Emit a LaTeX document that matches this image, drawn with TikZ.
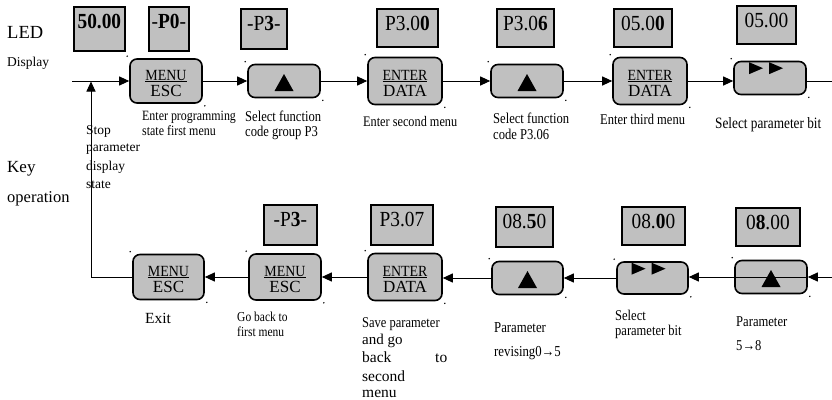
\documentclass[tikz,border=0pt]{standalone}
\usepackage{fontspec}
\setmainfont{Liberation Serif}
\newfontfamily\cf[FakeStretch=0.84]{Liberation Serif}
\newfontfamily\lf[FakeStretch=0.9]{Liberation Serif}
\usetikzlibrary{arrows.meta}
\definecolor{ledgray}{RGB}{192,192,192}
\newcommand\fs[1]{\fontsize{#1}{#1}\selectfont}
\newcommand\ledbox[6]{%
  \node[led, minimum width=#4pt, minimum height=#5pt] (#1) at (#2,#3) {};
  \node[ledtxt] (#1t) at ([yshift=-22pt]#1.north) {#6};}
\newcommand\cornerdots[1]{%
  \fill ([shift={(-2pt,2pt)}]#1.north west) circle (0.8pt);
  \fill ([shift={(2pt,-2pt)}]#1.south east) circle (0.8pt);}
\newcommand\twobtn[7]{%
  \node[btn, minimum width=#4pt, minimum height=#5pt] (#1) at (#2,#3) {};
  \node[btop] (#1a) at ([yshift=1pt]#1.center) {\underline{#6}};
  \node[bbot] (#1b) at ([yshift=-15.5pt]#1.center) {#7};
  \cornerdots{#1}}
\newcommand\upbtn[5]{%
  \node[btn, minimum width=#4pt, minimum height=#5pt] (#1) at (#2,#3) {};
  \fill ([shift={(-9.5pt,-10pt)}]#1.center) -- ([shift={(9.5pt,-10pt)}]#1.center)
     -- ([shift={(0pt,7pt)}]#1.center) -- cycle;
  \cornerdots{#1}}
\newcommand\ffbtn[5]{%
  \node[btn, minimum width=#4pt, minimum height=#5pt] (#1) at (#2,#3) {};
  \fill ([shift={(-21pt,-1.5pt)}]#1.north) -- ([shift={(-21pt,-13.5pt)}]#1.north)
     -- ([shift={(-7pt,-7.5pt)}]#1.north) -- cycle;
  \fill ([shift={(-1pt,-1.5pt)}]#1.north) -- ([shift={(-1pt,-13.5pt)}]#1.north)
     -- ([shift={(13pt,-7.5pt)}]#1.north) -- cycle;
  \cornerdots{#1}}
\begin{document}
\begin{tikzpicture}[x=1pt,y=-1pt,
  led/.style={draw, line width=1.8pt, fill=ledgray, inner sep=0pt, anchor=north west},
  ledtxt/.style={anchor=base, inner sep=0pt, font=\lf\fs{21.5}},
  btn/.style={draw, line width=1.6pt, fill=ledgray, rounded corners=7pt, inner sep=0pt},
  btop/.style={anchor=base, inner sep=0pt, font=\lf\fs{15.5}},
  bbot/.style={anchor=base, inner sep=0pt, font=\fs{17}},
  conn/.style={line width=1pt, -{Triangle[length=10pt,width=9pt]}},
  plain/.style={line width=1pt},
  lab/.style={anchor=base west, inner sep=0pt},
  clab/.style={anchor=base west, inner sep=0pt, font=\cf}]
\useasboundingbox (0,0) rectangle (832,399);

% side titles
\node[lab, font=\fs{18.5}] (tled) at (7,38) {LED};
\node[lab, font=\fs{13.5}] (tdisp) at (7,66) {Display};
\node[lab, font=\fs{17}] (tkey) at (7,172) {Key};
\node[lab, font=\fs{16.5}] (toper) at (7,202) {operation};

% top LED displays
\ledbox{L1}{73}{6}{51}{44}{\textbf{50.00}}
\ledbox{L2}{148}{6}{40}{44}{-\textbf{P0}-}
\ledbox{L3}{240}{8}{46}{40}{-P\textbf{3}-}
\ledbox{L4}{376}{8}{61}{38}{P3.0\textbf{0}}
\ledbox{L5}{496}{8}{57}{38}{P3.0\textbf{6}}
\ledbox{L6}{613}{8}{58}{38}{05.0\textbf{0}}
\ledbox{L7}{736}{5}{59}{38}{05.00}

% bottom LED displays
\ledbox{M1}{263}{204}{53}{40}{-P\textbf{3}-}
\ledbox{M2}{370}{204}{62}{40}{P3.07}
\ledbox{M3}{495}{206}{57}{40}{08.\textbf{5}0}
\ledbox{M4}{621}{206}{63}{38}{08.\textbf{0}0}
\ledbox{M5}{735}{207}{64}{38}{0\textbf{8}.00}

% top keys
\twobtn{b1}{166}{81}{72}{44}{MENU}{ESC}
\upbtn{b2}{284}{81}{72}{33}
\twobtn{b3}{405}{81}{74}{47}{ENTER}{DATA}
\upbtn{b4}{527}{81}{72}{33}
\twobtn{b5}{650}{81}{74}{47}{ENTER}{DATA}
\ffbtn{b6}{770}{78}{72}{33}

% bottom keys
\twobtn{c1}{168.5}{277}{71}{45}{MENU}{ESC}
\twobtn{c2}{285}{277}{72}{46}{MENU}{ESC}
\twobtn{c3}{405}{277}{74}{47}{ENTER}{DATA}
\upbtn{c4}{527.5}{278}{71}{33}
\ffbtn{c5}{652.5}{278}{71}{32}
\upbtn{c6}{771}{277}{72}{33}

% coordinates
\coordinate (st) at (72,81);
\coordinate (outR) at (832,81);
\coordinate (inR) at (832,277);
\coordinate (fbc) at (91,277);
\coordinate (fbj) at (91,81.5);

% top connectors
\draw[conn] (st) -- (b1.west);
\draw[conn] (b1.east) -- (b2.west);
\draw[conn] (b2.east) -- (b3.west);
\draw[conn] (b3.east) -- (b4.west);
\draw[conn] (b4.east) -- (b5.west);
\draw[conn] (b5.east) -- (b5.east -| b6.west);
\draw[plain] (b6.east |- outR) -- (outR);

% bottom connectors
\draw[conn] (inR) -- (c6.east);
\draw[conn] (c6.east) -- (c6.east -| c5.east);
\draw[conn] (c5.west) -- (c5.west -| c4.east);
\draw[conn] (c4.west) -- (c4.west -| c3.east);
\draw[conn] (c3.west) -- (c2.east);
\draw[conn] (c2.west) -- (c1.east);
\draw[conn] (c1.west) -- (fbc) -- (fbj);

% labels left stack
\node[lab, font=\fs{13.5}] (s1) at (86,134) {Stop};
\node[lab, font=\fs{13.5}] (s2) at (86,151) {parameter};
\node[lab, font=\fs{13.5}] (s3) at (86,170) {display};
\node[lab, font=\fs{13.5}] (s4) at (86,188) {state};

% labels top
\node[clab, font=\cf\fs{14.2}] (a1) at (142,120) {Enter programming};
\node[clab, font=\cf\fs{14.2}] (a2) at (142,135) {state first menu};
\node[clab, font=\cf\fs{15}] (a3) at (245,121) {Select function};
\node[clab, font=\cf\fs{15}] (a4) at (245,136) {code group P3};
\node[clab, font=\cf\fs{14.6}] (a5) at (363,126) {Enter second menu};
\node[clab, font=\cf\fs{15}] (a6) at (493,123) {Select function};
\node[clab, font=\cf\fs{15}] (a7) at (493,139) {code P3.06};
\node[clab, font=\cf\fs{14.9}] (a8) at (600,124) {Enter third menu};
\node[clab, font=\cf\fs{15.8}] (a9) at (715,128) {Select parameter bit};

% labels bottom
\node[lab, font=\fs{15.5}] (d1) at (145,323) {Exit};
\node[clab, font=\cf\fs{13.7}] (d2) at (237,321) {Go back to};
\node[clab, font=\cf\fs{13.7}] (d3) at (237,336) {first menu};
\node[clab, font=\cf\fs{14.9}] (d4) at (362,327) {Save parameter};
\node[lab, font=\fs{15}] (d5) at (362,344) {and go};
\node[lab, font=\fs{15.5}] (d6) at (362,362) {back};
\node[lab, font=\fs{15.5}] (d7) at (435,362) {to};
\node[lab, font=\fs{15.5}] (d8) at (362,381) {second};
\node[lab, font=\fs{15.5}] (d9) at (362,397) {menu};
\node[clab, font=\cf\fs{15.2}] (e1) at (494,332) {Parameter};
\node[clab, font=\cf\fs{15.2}] (e2) at (494,356) {revising0→5};
\node[clab, font=\cf\fs{14.9}] (e3) at (615,320) {Select};
\node[clab, font=\cf\fs{14.9}] (e4) at (615,335) {parameter bit};
\node[clab, font=\cf\fs{15}] (e5) at (736,326) {Parameter};
\node[clab, font=\cf\fs{15}] (e6) at (736,350) {5→8};
\end{tikzpicture}
\end{document}
